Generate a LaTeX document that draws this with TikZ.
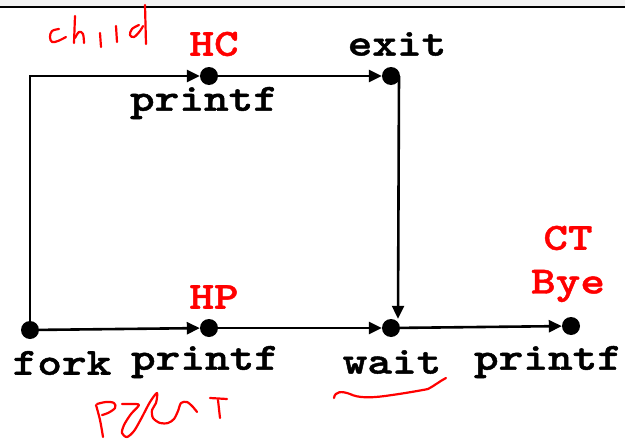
\documentclass[tikz,border=0pt]{standalone}
\usepackage{fontspec}
\newfontfamily\codefont{lmmonolt10-bold.otf}[FakeStretch=1.22, FakeBold=1.2]
\usetikzlibrary{arrows.meta}
\definecolor{band}{HTML}{F2F2F2}
\definecolor{ink}{HTML}{FF0000}
\tikzset{
  dot/.style={circle, fill=black, inner sep=0pt, minimum size=18pt},
  code/.style={font=\codefont\fontsize{38.5}{38.5}\selectfont, inner sep=0pt, text=black},
  redcode/.style={code, text=ink},
  arr/.style={line width=2.6pt, -{Triangle[length=13pt, width=12pt]}},
  pen/.style={draw=ink, line width=2.2pt, line cap=round, line join=round}
}
\begin{document}
\begin{tikzpicture}[x=1pt, y=-1pt]
  \useasboundingbox (0,0) rectangle (625,442);
  % header band and rule
  \fill[band] (0,0) rectangle (625,6);
  \draw[line width=2.5pt] (0,7) -- (625,7);

  % events
  \node[dot] (fork) at (30,330) {};
  \node[dot] (HP)   at (209,328) {};
  \node[dot] (wait) at (391,328) {};
  \node[dot] (CT)   at (571,326) {};
  \node[dot] (HC)   at (209,76) {};
  \node[dot] (exit) at (391,76) {};

  % labels
  \node[redcode] (lHC)   at (214,44) {HC};
  \node[code]    (lexit) at (397,44) {exit};
  \node[code]    (lpc)   at (204,103) {printf};
  \node[redcode] (lHP)   at (214,297) {HP};
  \node[redcode] (lCT)   at (568,238) {CT};
  \node[redcode] (lBye)  at (568,286) {Bye};
  \node[code]    (lfork) at (62,363) {fork};
  \node[code]    (lpp)   at (205,362) {printf};
  \node[code]    (lwait) at (392,362) {wait};
  \node[code]    (lpb)   at (548,362) {printf};

  % process graph
  \draw[arr] (fork.center) |- (HC);
  \draw[arr] (HC) -- (exit);
  \draw[arr] ([xshift=8pt]exit.center) -- ([xshift=7pt]wait.north);
  \draw[arr] (fork) -- (HP);
  \draw[arr] (HP) -- (wait);
  \draw[arr] (wait) -- (CT);

  % handwritten note: "child"
  \draw[pen] plot[smooth, tension=0.6] coordinates {(59,29) (52,31) (50,37) (52,42) (58,41) (66,37)};
  \draw[pen] (75,16) -- (74,43);
  \draw[pen] plot[smooth, tension=0.6] coordinates {(75,38) (79,32) (83,34) (84,43)};
  \draw[pen] (100,33) -- (101,47);
  \draw[pen] (116,26) -- (117,42);
  \draw[pen] plot[smooth, tension=0.6] coordinates {(139,25) (132,29) (130,35) (134,37) (140,31) (143,26)};
  \draw[pen] (145,5) -- (146,44);

  % handwritten note: "Parent"
  \draw[pen] plot[smooth, tension=0.6] coordinates {(96,405) (100,420) (103,437)};
  \draw[pen] plot[smooth, tension=0.6] coordinates {(97,404) (106,402) (114,403) (115,408) (108,413) (102,415)};
  \draw[pen] plot[smooth, tension=0.5] coordinates {(122,404) (131,404) (139,405) (131,414) (124,425) (122,433) (127,437)
      (134,431) (141,419) (150,402) (157,393) (156,403) (152,410) (153,418) (160,423) (168,423) (174,419) (178,411) (181,403) (187,402) (193,407) (197,412)};
  \draw[pen] (210,398) -- (227,399);
  \draw[pen] (218,400) -- (220,418);

  % underline beneath wait
  \draw[pen] (334,398) .. controls (335,391) and (342,391) .. (350,394)
             .. controls (358,398) and (370,398) .. (385,396)
             .. controls (400,394) and (418,391) .. (428,389)
             .. controls (434,386) and (440,381) .. (446,378);
\end{tikzpicture}
\end{document}
